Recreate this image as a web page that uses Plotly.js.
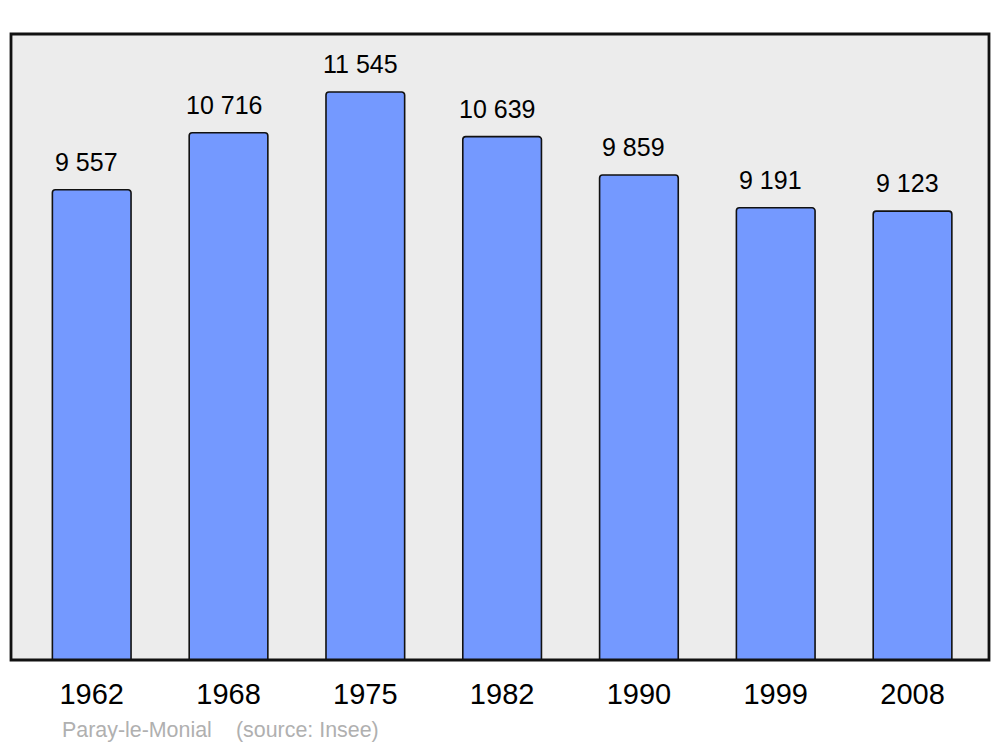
<!DOCTYPE html>
<html>
<head>
<meta charset="utf-8">
<script src="https://cdn.plot.ly/plotly-3.0.1.min.js"></script>
<style>html,body{margin:0;padding:0;background:#fff;}#chart{width:1000px;height:747px;}</style>
</head>
<body>
<div id="chart"></div>
<script>
const years = ["1962", "1968", "1975", "1982", "1990", "1999", "2008"];
const population = [9557, 10716, 11545, 10639, 9859, 9191, 9123];
const valueLabels = ["9 557", "10 716", "11 545", "10 639", "9 859", "9 191", "9 123"];
const townName = "Paray-le-Monial";
const sourceText = "(source: Insee)";

const trace = {
  type: "bar",
  x: years,
  y: population,
  width: 0.575,
  marker: {color: "#7499ff", line: {color: "#111", width: 1.6}, cornerradius: 3},
  hoverinfo: "skip"
};

const annotations = years.map((yr, i) => ({
  x: i, y: population[i], xref: "x", yref: "y",
  text: valueLabels[i], showarrow: false,
  xanchor: "center", yanchor: "middle", xshift: -5, yshift: 28,
  font: {family: "Liberation Sans, Arial, sans-serif", size: 25, color: "#000"}
}));
annotations.push({
  xref: "paper", yref: "paper", x: 0.0505, y: -0.112, xanchor: "left", yanchor: "middle",
  text: townName, showarrow: false,
  font: {family: "Liberation Sans, Arial, sans-serif", size: 21.4, color: "#b0b0b0"}
});
annotations.push({
  xref: "paper", yref: "paper", x: 0.2285, y: -0.112, xanchor: "left", yanchor: "middle",
  text: sourceText, showarrow: false,
  font: {family: "Liberation Sans, Arial, sans-serif", size: 21.4, color: "#b0b0b0"}
});

const layout = {
  width: 1000, height: 747,
  margin: {l: 11, r: 11, t: 34, b: 87, pad: 0},
  paper_bgcolor: "#ffffff",
  plot_bgcolor: "#ececec",
  showlegend: false,
  xaxis: {
    type: "category", range: [-0.59, 6.559],
    showgrid: false, zeroline: false, showline: false, ticks: "",
    tickfont: {family: "Liberation Sans, Arial, sans-serif", size: 29, color: "#000"},
    ticklabelstandoff: 14, fixedrange: true
  },
  yaxis: {
    range: [0, 12724], showgrid: false, zeroline: false, showline: false,
    showticklabels: false, ticks: "", fixedrange: true
  },
  shapes: [{
    type: "rect", xref: "x domain", yref: "y domain", x0: 0, x1: 1, y0: 0, y1: 1,
    line: {color: "#111", width: 2.8}, fillcolor: "rgba(0,0,0,0)", layer: "above"
  }],
  annotations: annotations
};

Plotly.newPlot("chart", [trace], layout, {displayModeBar: false, staticPlot: true});
</script>
</body>
</html>
